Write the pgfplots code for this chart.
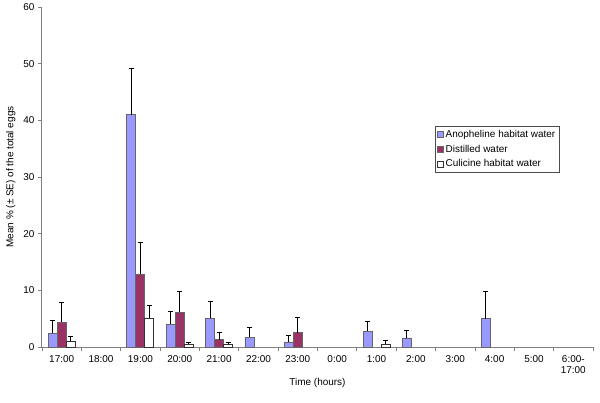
\documentclass[border=0pt]{standalone}
\usepackage{pgfplots}
\pgfplotsset{compat=1.18}
\usepackage{fontspec}
\setmainfont{Liberation Sans}

\definecolor{anoph}{HTML}{9999FF}
\definecolor{distil}{HTML}{993366}
\definecolor{axgray}{HTML}{808080}

\begin{document}
\begin{tikzpicture}
\begin{axis}[
  scale only axis,
  width=551bp, height=340bp,
  ybar=0pt, bar width=9bp,
  xmin=-0.5, xmax=13.5,
  ymin=0, ymax=60,
  ytick={0,10,...,60},
  xtick={0,...,13},
  xticklabels={17:00,18:00,19:00,20:00,21:00,22:00,23:00,0:00,1:00,2:00,3:00,4:00,5:00,{6:00-\\17:00}},
  minor xtick={-0.5,0.5,...,13.5},
  major x tick style={draw=none},
  minor tick length=4bp,
  major tick length=4bp,
  tick align=outside,
  tick pos=left,
  axis lines*=left,
  axis line style={axgray, line width=1bp},
  every tick/.style={axgray, line width=0.8bp},
  x tick label style={align=center, font=\fontsize{10}{11}\selectfont, yshift=-1bp},
  y tick label style={font=\fontsize{10}{11}\selectfont},
  /pgf/number format/assume math mode=true,
  xlabel={Time (hours)},
  ylabel={Mean \% (± SE) of the total eggs},
  label style={font=\fontsize{10}{11}\selectfont},
  xlabel style={yshift=2bp},
  ylabel style={yshift=1bp},
  error bars/y dir=plus,
  error bars/y explicit,
  error bars/error bar style={black, line width=0.8bp},
  error bars/error mark options={rotate=90, mark size=2.5bp, black, line width=0.8bp},
  legend style={at={(rel axis cs:0.713,0.65)}, anchor=north west,
    draw=black!70, font=\fontsize{10}{11}\selectfont, inner sep=2bp,
    row sep=2bp, cells={anchor=west}},
  legend image code/.code={\draw[#1, line width=0.6bp] (0bp,-3bp) rectangle (6bp,3bp);},
]
\addplot[fill=anoph, draw=black!60, line width=0.8bp] coordinates {
  (0,2.4) +- (0,2.3)
  (2,41.0) +- (0,8.2)
  (3,4.0) +- (0,2.2)
  (4,5.1) +- (0,3.0)
  (5,1.7) +- (0,1.8)
  (6,0.9) +- (0,1.2)
  (8,2.8) +- (0,1.8)
  (9,1.6) +- (0,1.4)
  (11,5.0) +- (0,4.9)
};
\addplot[fill=distil, draw=black!60, line width=0.8bp] coordinates {
  (0,4.4) +- (0,3.4)
  (2,12.8) +- (0,5.7)
  (3,6.1) +- (0,3.8)
  (4,1.3) +- (0,1.3)
  (6,2.5) +- (0,2.8)
};
\addplot[fill=white, draw=black!80, line width=0.8bp] coordinates {
  (0,1.0) +- (0,0.9)
  (2,5.1) +- (0,2.3)
  (3,0.5) +- (0,0.3)
  (4,0.4) +- (0,0.5)
  (8,0.5) +- (0,0.6)
};
\legend{Anopheline habitat water, Distilled water, Culicine habitat water}
\end{axis}
\pgfresetboundingbox
\path (current axis.south west) +(-42bp,-56bp) (current axis.north east) +(7bp,7bp);
\end{tikzpicture}
\end{document}
